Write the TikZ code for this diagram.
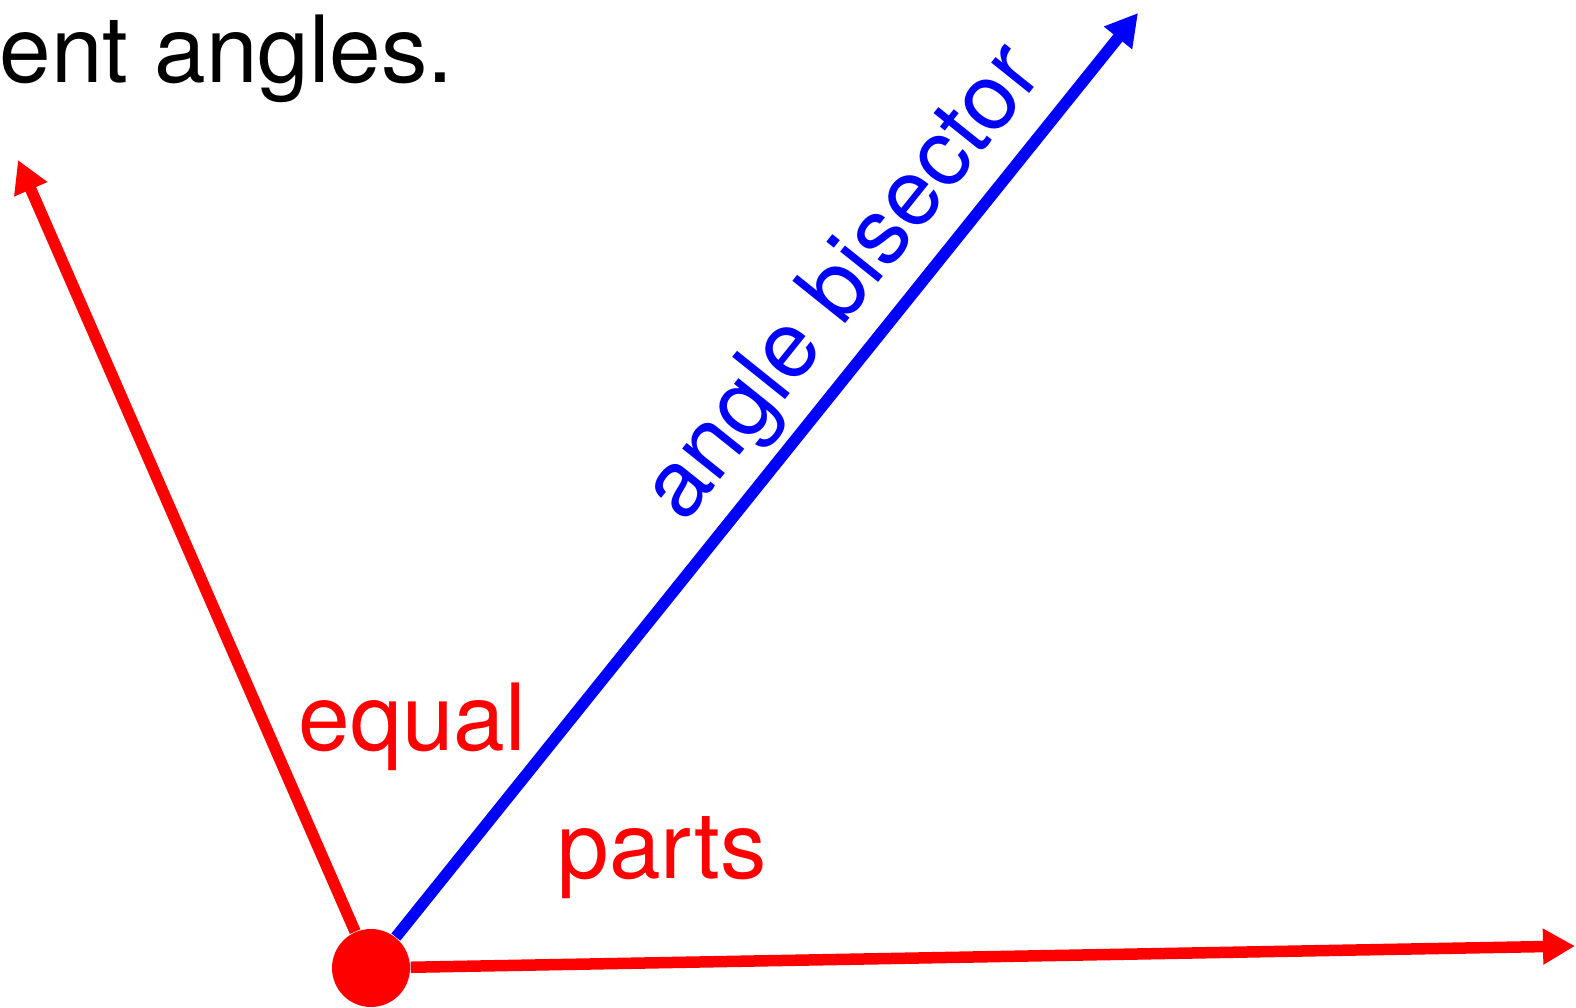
\documentclass[tikz,border=0pt]{standalone}
\usepackage{fontspec}
\setmainfont{TeX Gyre Heros}
\usetikzlibrary{arrows.meta}

\begin{document}
\begin{tikzpicture}[ray/.style={line width=0.115cm, -{Triangle[length=0.32cm,width=0.34cm]}},
  lbl/.style={inner sep=0pt, font=\fontsize{26.4}{30}\selectfont}]
\useasboundingbox (0,0) rectangle (15.76,-10.08);

\node [lbl, anchor=base west] (txt) at (-0.01,-0.83) {ent angles.};

%%%% rays
\coordinate (l) at (0.18,-1.60); \coordinate (b) at (11.38,-0.13); \coordinate (r) at (15.75,-9.46);
\node [circle, fill=red, minimum size=0.78cm, inner sep=0pt] (v) at (3.71,-9.68) {};

\draw [ray, red] (v) -- (l); \draw [ray, red] (v) -- (r);
\draw [ray, blue] (v) -- (b);
\node [lbl, text=blue] (bis) at (8.46,-2.85) {\rotatebox{51.3}{angle bisector}};

%%%% labels
\node [lbl, anchor=base west, text=red] (eq) at (2.98,-7.50) {equal};
\node [lbl, anchor=base west, text=red] (pt) at (5.57,-8.78) {parts};

\end{tikzpicture}
\end{document}
